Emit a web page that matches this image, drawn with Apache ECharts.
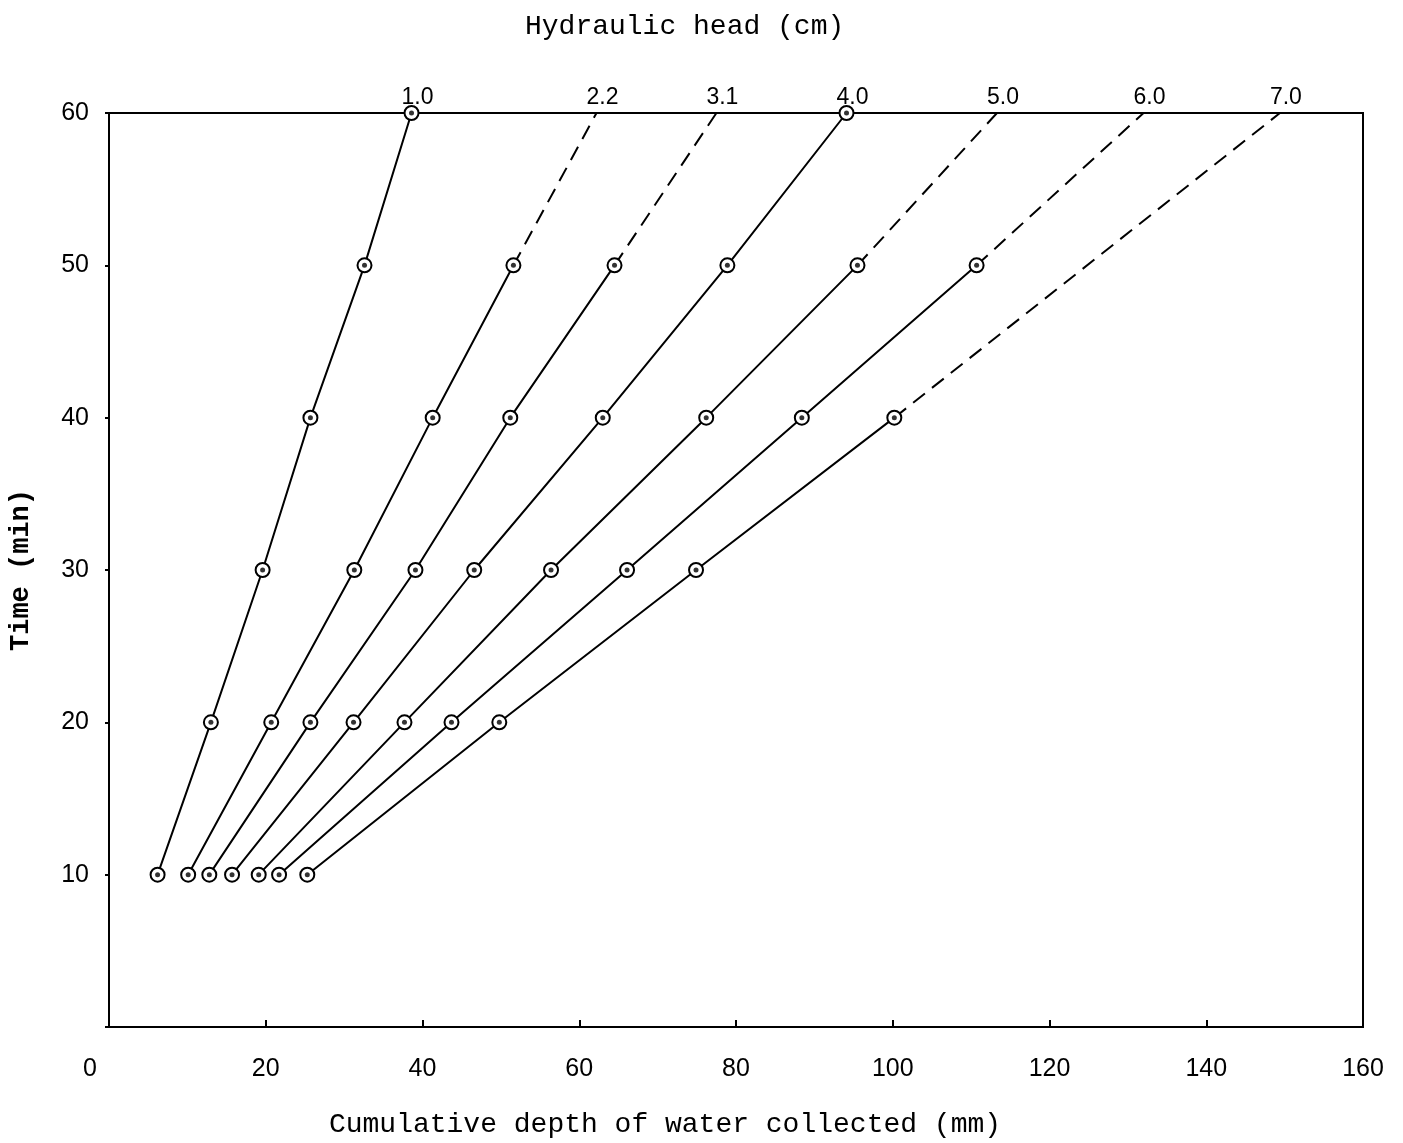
<!DOCTYPE html>
<html>
<head>
<meta charset="utf-8">
<script src="https://cdn.jsdelivr.net/npm/echarts@6/dist/echarts.min.js"></script>
<style>
  html, body { margin: 0; padding: 0; background: #fff; }
  #chart { width: 1403px; height: 1143px; }
</style>
</head>
<body>
<div id="chart"></div>
<script>
// Hydraulic head of each run (cm)
const heads = ['1.0', '2.2', '3.1', '4.0', '5.0', '6.0', '7.0'];
// Sampling times (min)
const times = [10, 20, 30, 40, 50, 60];
// Cumulative depth of water collected (mm) at each sampling time
const head10 = [6.2, 13.0, 19.6, 25.7, 32.6, 38.6];
const head22 = [10.1, 20.7, 31.3, 41.3, 51.6];
const head31 = [12.8, 25.7, 39.1, 51.2, 64.5];
const head40 = [15.7, 31.2, 46.6, 63.0, 78.9, 94.1];
const head50 = [19.1, 37.7, 56.4, 76.2, 95.5];
const head60 = [21.7, 43.7, 66.1, 88.4, 110.7];
const head70 = [25.3, 49.8, 74.9, 100.2];
// Extrapolated depth at 60 min (dashed continuation), null where measured
const extrapolatedAt60 = [null, 62.2, 77.5, null, 113.3, 132.0, 149.4];

const measured = [head10, head22, head31, head40, head50, head60, head70];
const END_TIME = 60;

const tickFont = 'Liberation Sans';
const nameFont = 'Liberation Mono';

const series = [];
const endLabels = [];

measured.forEach((depths, k) => {
  const pts = depths.map((d, i) => [d, times[i]]);
  const last = pts[pts.length - 1];
  const ext = extrapolatedAt60[k];

  if (ext !== null) {
    series.push({
      type: 'line',
      z: 1,
      data: [last, [ext, END_TIME]],
      symbol: 'none',
      lineStyle: { color: '#000', width: 2, type: [15, 9] },
      silent: true
    });
    endLabels.push({ value: [ext, END_TIME], name: heads[k] });
  } else {
    endLabels.push({ value: last, name: heads[k] });
  }

  series.push({
    type: 'line',
    z: 2,
    data: pts,
    symbol: 'emptyCircle',
    symbolSize: 14,
    lineStyle: { color: '#000', width: 2 },
    itemStyle: { color: '#000', borderColor: '#000', borderWidth: 2.2 },
    silent: true
  });
  series.push({
    type: 'scatter',
    z: 3,
    data: pts,
    symbol: 'circle',
    symbolSize: 5,
    itemStyle: { color: '#000' },
    silent: true
  });
});

// Head values written above the 60-min end of every line
series.push({
  type: 'scatter',
  z: 4,
  data: endLabels,
  symbolSize: 0,
  itemStyle: { color: '#000', opacity: 1 },
  label: {
    show: true,
    position: 'top',
    distance: 4,
    offset: [6, 0],
    formatter: p => p.name,
    color: '#000',
    opacity: 1,
    fontFamily: tickFont,
    fontSize: 23
  },
  silent: true
});

const chart = echarts.init(document.getElementById('chart'), null, { renderer: 'canvas' });
chart.setOption({
  animation: false,
  backgroundColor: '#fff',
  title: {
    text: 'Hydraulic head (cm)',
    left: 520,
    top: 8,
    textStyle: { fontFamily: nameFont, fontSize: 28, fontWeight: 'normal', color: '#000' }
  },
  grid: {
    left: 109,
    right: 40,
    top: 113,
    bottom: 116,
    outerBoundsMode: 'none',
    containLabel: false,
    show: true,
    borderColor: '#000',
    borderWidth: 2,
    backgroundColor: 'transparent'
  },
  xAxis: {
    type: 'value',
    min: 0,
    max: 160,
    interval: 20,
    name: 'Cumulative depth of water collected (mm)',
    nameLocation: 'middle',
    nameGap: 84,
    nameTextStyle: { fontFamily: nameFont, fontSize: 28, color: '#000', padding: [0, 142, 0, 0] },
    axisLine: { show: true, lineStyle: { color: '#000', width: 2 } },
    axisTick: { show: true, inside: true, length: 7, lineStyle: { color: '#000', width: 2 } },
    splitLine: { show: false },
    axisLabel: {
      margin: 30,
      color: '#000',
      fontFamily: tickFont,
      fontSize: 25,
      showMinLabel: true,
      showMaxLabel: true,
      formatter: v => (v === 0 ? '{zero|0}' : String(v)),
      rich: {
        zero: { fontFamily: tickFont, fontSize: 25, color: '#000', padding: [0, 38, 0, 0] }
      }
    }
  },
  yAxis: {
    type: 'value',
    min: 0,
    max: 60,
    interval: 10,
    name: 'Time (min)',
    nameLocation: 'middle',
    nameGap: 74,
    nameTextStyle: { fontFamily: nameFont, fontSize: 27, fontWeight: 'bold', color: '#000' },
    axisLine: { show: true, lineStyle: { color: '#000', width: 2 } },
    axisTick: { show: true, inside: false, length: 4, lineStyle: { color: '#000', width: 2 } },
    splitLine: { show: false },
    axisLabel: {
      margin: 20,
      color: '#000',
      fontFamily: tickFont,
      fontSize: 25,
      formatter: v => (v === 0 ? '' : String(v))
    }
  },
  series: series
});
</script>
</body>
</html>
